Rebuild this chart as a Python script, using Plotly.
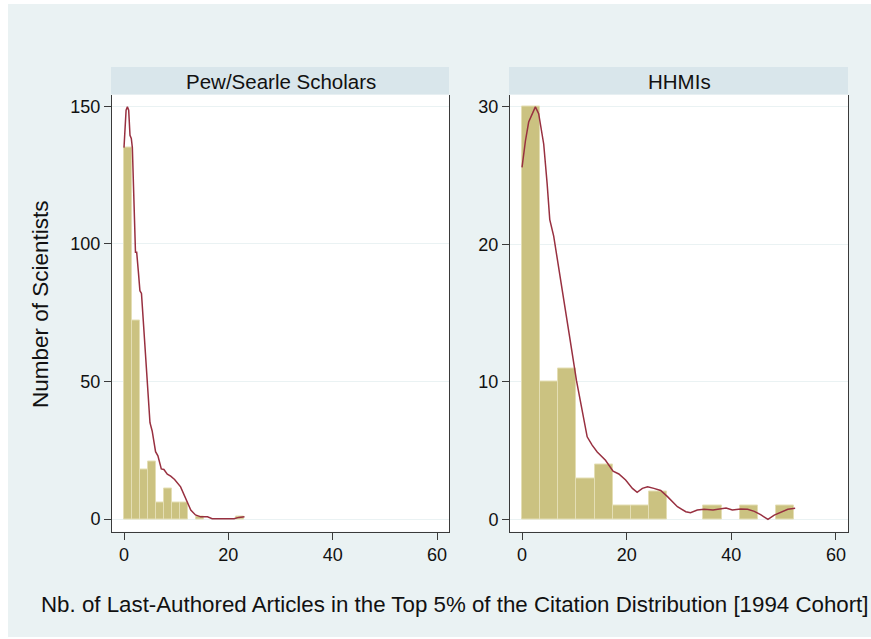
import numpy as np
import plotly.graph_objects as go

W, H = 871, 639

# ---- data ----
panel_titles = ["Pew/Searle Scholars", "HHMIs"]

pew_bin_min, pew_bin_max = 0.0, 23.0
pew_counts = [135, 72, 18, 21, 6, 11, 6, 6, 0, 1, 0, 0, 0, 0, 1]

hhmi_bin_min, hhmi_bin_max = 0.0, 52.0
hhmi_counts = [30, 10, 11, 3, 4, 1, 1, 2, 0, 0, 1, 0, 1, 0, 1]

pew_kde_x = [0, 0.2, 0.4, 0.65, 0.9, 1.15, 1.4, 1.6, 1.8, 2.05, 2.2, 2.43, 2.55, 2.75,
             3.05, 3.35, 3.7, 4.05, 4.5, 4.98, 5.4, 6.05, 6.5, 7.15, 7.65, 8.3, 8.95,
             9.7, 10.85, 11.8, 12.8, 13.7, 14.7, 16.0, 16.9, 21.1, 22.0, 23.1]
pew_kde_y = [135, 143.7, 148.6, 149.8, 148.6, 139.5, 138.3, 135, 119.5, 99, 97, 97, 95, 90,
             83, 82, 72, 61, 47, 35, 32, 24.5, 23, 18.2, 18, 16.3, 15.6,
             14.4, 11.7, 7.5, 3.3, 1.5, 0.8, 0.8, 0.1, 0.1, 0.6, 0.8]

hhmi_kde_x = [0, 0.64, 1.27, 1.9, 2.55, 3.18, 4.14, 4.8, 5.3, 6.05, 6.7, 7.66, 9.0, 10.4,
              11.5, 12.45, 13.4, 14.37, 15.95, 17.4, 18.5, 19.8, 21.1, 22.0, 23.0, 24.0,
              25.2, 26.5, 27.8, 29.7, 31.3, 32.2, 33.5, 34.8, 36.5, 38.0, 39.0, 40.2,
              41.8, 43.1, 44.4, 45.6, 47.0, 48.2, 49.5, 50.8, 52.2]
hhmi_kde_y = [25.6, 27.5, 28.9, 29.4, 30.0, 29.5, 27.3, 24.4, 21.8, 20.6, 19.1, 16.9, 13.5, 10.1,
              7.95, 6.0, 5.4, 4.9, 4.3, 3.5, 3.3, 2.86, 2.25, 1.96, 2.25, 2.37,
              2.25, 2.1, 1.65, 0.92, 0.55, 0.48, 0.68, 0.73, 0.68, 0.8, 0.83, 0.68,
              0.75, 0.73, 0.58, 0.34, 0.0, 0.31, 0.55, 0.73, 0.8]

x_ticks = [0, 20, 40, 60]
pew_y_ticks = [0, 50, 100, 150]
hhmi_y_ticks = [0, 10, 20, 30]

x_title = "Nb. of Last-Authored Articles in the Top 5% of the Citation Distribution [1994 Cohort]"
y_title = "Number of Scientists"

# ---- styling ----
FONT = "Liberation Sans, Arial, Helvetica, sans-serif"
BG = "#EAF2F3"
STRIP = "#D9E6EB"
BAR = "#CBC281"
BAR_EDGE = "#E4DEB4"
LINE = "#983040"
AXC = "#3a3a3a"
TXT = "#111111"


def px_x(p):
    return p / W


def px_y(p):
    return 1 - p / H


def bins(lo, hi, counts):
    n = len(counts)
    w = (hi - lo) / n
    centers = lo + w * (np.arange(n) + 0.5)
    heights = [c if c > 0 else None for c in counts]  # empty bins draw nothing
    return centers, heights, w


fig = go.Figure()

pc, ph, pw = bins(pew_bin_min, pew_bin_max, pew_counts)
hc, hh, hw = bins(hhmi_bin_min, hhmi_bin_max, hhmi_counts)

fig.add_trace(go.Bar(x=pc, y=ph, width=pw, marker=dict(color=BAR, line=dict(color=BAR_EDGE, width=1)),
                     xaxis="x", yaxis="y", showlegend=False))
fig.add_trace(go.Scatter(x=pew_kde_x, y=pew_kde_y, mode="lines", line=dict(color=LINE, width=1.5),
                         xaxis="x", yaxis="y", showlegend=False))
fig.add_trace(go.Bar(x=hc, y=hh, width=hw, marker=dict(color=BAR, line=dict(color=BAR_EDGE, width=1)),
                     xaxis="x2", yaxis="y2", showlegend=False))
fig.add_trace(go.Scatter(x=hhmi_kde_x, y=hhmi_kde_y, mode="lines", line=dict(color=LINE, width=1.5),
                         xaxis="x2", yaxis="y2", showlegend=False))

ydom = [px_y(531.7), px_y(94.5)]
left_dom = [px_x(112), px_x(449)]
right_dom = [px_x(510), px_x(848)]

xaxis_common = dict(range=[-2.3, 62.3], tickvals=x_ticks, showgrid=False, zeroline=False,
                    showline=True, linecolor=AXC, linewidth=1, mirror=False,
                    ticks="outside", ticklen=7, tickcolor=AXC,
                    tickfont=dict(family=FONT, size=18, color=TXT))
yaxis_common = dict(showgrid=True, gridcolor=BG, gridwidth=1, zeroline=False,
                    showline=True, linecolor=AXC, linewidth=1, mirror=True,
                    ticks="outside", ticklen=7, tickcolor=AXC,
                    tickfont=dict(family=FONT, size=18, color=TXT))

fig.update_layout(
    width=W, height=H, autosize=False,
    margin=dict(l=0, r=0, t=0, b=0),
    paper_bgcolor=BG, plot_bgcolor="white",
    bargap=0,
    xaxis=dict(domain=left_dom, anchor="y", **xaxis_common),
    yaxis=dict(domain=ydom, anchor="x", range=[-4.6, 154.3], tickvals=pew_y_ticks, **yaxis_common),
    xaxis2=dict(domain=right_dom, anchor="y2", **xaxis_common),
    yaxis2=dict(domain=ydom, anchor="x2", range=[-0.9, 30.9], tickvals=hhmi_y_ticks, **yaxis_common),
)

shapes = []
# white outer border (graph region inset)
shapes.append(dict(type="rect", xref="paper", yref="paper", x0=0, x1=px_x(8), y0=0, y1=1,
                   fillcolor="white", line=dict(width=0), layer="above"))
shapes.append(dict(type="rect", xref="paper", yref="paper", x0=0, x1=1, y0=px_y(4), y1=1,
                   fillcolor="white", line=dict(width=0), layer="above"))
shapes.append(dict(type="rect", xref="paper", yref="paper", x0=0, x1=1, y0=0, y1=px_y(637),
                   fillcolor="white", line=dict(width=0), layer="above"))
# strips
for dom in (left_dom, right_dom):
    shapes.append(dict(type="rect", xref="paper", yref="paper", x0=dom[0] - px_x(1), x1=dom[1],
                       y0=px_y(94.5), y1=px_y(67), fillcolor=STRIP, line=dict(width=0), layer="above"))
fig.update_layout(shapes=shapes)

annotations = []
for dom, t in zip((left_dom, right_dom), panel_titles):
    annotations.append(dict(text=t, xref="paper", yref="paper", x=(dom[0] + dom[1]) / 2, y=px_y(81),
                            xanchor="center", yanchor="middle", showarrow=False,
                            font=dict(family=FONT, size=20.5, color=TXT)))
annotations.append(dict(text=x_title, xref="paper", yref="paper", x=px_x(455), y=px_y(604),
                        xanchor="center", yanchor="middle", showarrow=False,
                        font=dict(family=FONT, size=22.3, color=TXT)))
annotations.append(dict(text=y_title, xref="paper", yref="paper", x=px_x(40), y=px_y(304),
                        xanchor="center", yanchor="middle", showarrow=False, textangle=-90,
                        font=dict(family=FONT, size=22.5, color=TXT)))
fig.update_layout(annotations=annotations)

fig.write_html("out.html")
